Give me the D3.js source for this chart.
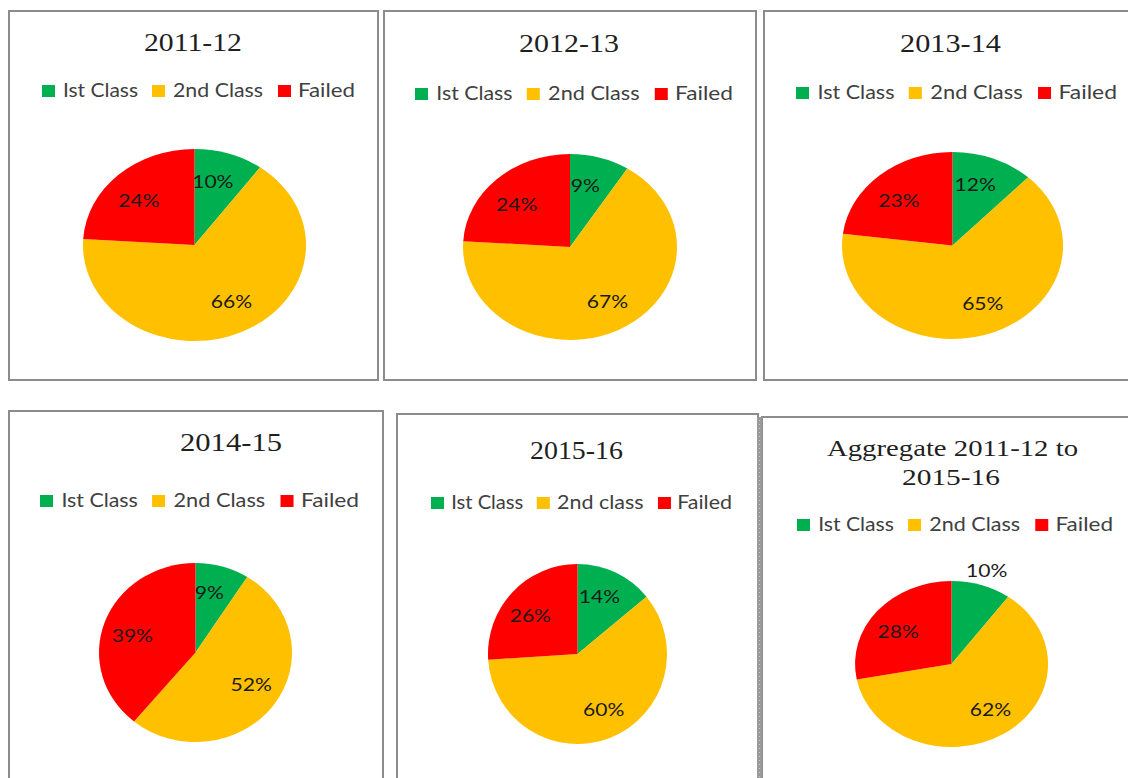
<!DOCTYPE html>
<html>
<head>
<meta charset="utf-8">
<script src="https://cdn.jsdelivr.net/npm/d3@7"></script>
<style>
  html, body { margin: 0; padding: 0; background: #ffffff; }
  svg { display: block; }
</style>
</head>
<body>
<svg id="chart" width="1128" height="778"></svg>
<script>
// ---------------- data ----------------
const categories = ["Ist Class", "2nd Class", "Failed"];
const panelTitles = [["2011-12"], ["2012-13"], ["2013-14"], ["2014-15"], ["2015-16"], ["Aggregate 2011-12 to", "2015-16"]];
const legendNames = [
  ["Ist Class", "2nd Class", "Failed"],
  ["Ist Class", "2nd Class", "Failed"],
  ["Ist Class", "2nd Class", "Failed"],
  ["Ist Class", "2nd Class", "Failed"],
  ["Ist Class", "2nd class", "Failed"],
  ["Ist Class", "2nd Class", "Failed"]
];
const firstClass  = [10, 9, 12, 9, 14, 10];
const secondClass = [66, 67, 65, 52, 60, 62];
const failed      = [24, 24, 23, 39, 26, 28];
const colors = ["#00B050", "#FFC000", "#FF0000"];

// ---------------- layout (positions / sizes / styles) ----------------
const layout = [
  {box: [9, 11, 378, 380], titles: [[193, 51, 98]], legend: [42, 313, 97], pie: [194.5, 245, 111.5, 96], outside: []},
  {box: [384, 11, 756, 380], titles: [[569, 52, 100]], legend: [415, 318, 100], pie: [570, 247, 107, 93], outside: []},
  {box: [764, 11, 1140, 380], titles: [[950.5, 52, 101]], legend: [796, 321, 99], pie: [952.5, 245.5, 110.5, 93.5], outside: []},
  {box: [9, 411, 383, 800], titles: [[231, 451, 102]], legend: [40, 319, 507], pie: [195.5, 652.5, 96.5, 89.5], outside: []},
  {box: [397, 414, 758, 800], titles: [[576.5, 459, 93]], legend: [431, 301, 509], pie: [577.5, 654, 89.5, 90], outside: []},
  {box: [762, 417, 1140, 800], titles: [[952.5, 456, 251], [951, 485, 98]], legend: [797, 316, 531], pie: [951.5, 664, 96.5, 83], outside: [0]}
];
// legend template relative to a 313px span
const legSquares = [0, 110, 236];
const legTexts = [[21, 75], [131, 90], [256, 57]];
const legSpanRef = 313;

const svg = d3.select("#chart");
const pie = d3.pie().sort(null).startAngle(0).endAngle(2 * Math.PI);
const arc = d3.arc().innerRadius(0).outerRadius(1);
const insideR = 0.68, outsideR = 1.18, angleShift = -4 * Math.PI / 180;

// panel borders
layout.forEach((L, i) => {
  const [x0, y0, x1, y1] = L.box;
  svg.append("rect")
    .attr("x", x0).attr("y", y0).attr("width", x1 - x0).attr("height", y1 - y0)
    .attr("fill", "#ffffff").attr("stroke", "#8c8c8c").attr("stroke-width", 2);
});
// double/dotted border strip at left of last panel
svg.append("rect").attr("x", 757).attr("y", 417).attr("width", 5).attr("height", 380)
  .attr("fill", "#9a9a9a");
svg.append("line").attr("x1", 759.5).attr("x2", 759.5).attr("y1", 420).attr("y2", 800)
  .attr("stroke", "#d0d0d0").attr("stroke-width", 1).attr("stroke-dasharray", "1,3");

layout.forEach((L, i) => {
  const g = svg.append("g");
  const values = [firstClass[i], secondClass[i], failed[i]];

  // title
  panelTitles[i].forEach((t, k) => {
    const [cx, y, w] = L.titles[k];
    const fs = panelTitles[i].length > 1 ? 24 : 26;
    g.append("text")
      .attr("x", cx - w / 2).attr("y", y)
      .attr("textLength", w).attr("lengthAdjust", "spacingAndGlyphs")
      .attr("font-family", "'Liberation Serif', 'Times New Roman', serif")
      .attr("font-size", fs).attr("fill", "#1f1f1f")
      .text(t);
  });

  // legend
  const [lx, span, ly] = L.legend;
  const s = span / legSpanRef;
  categories.forEach((c, k) => {
    g.append("rect")
      .attr("x", lx + legSquares[k] * s).attr("y", ly - 12)
      .attr("width", 13).attr("height", 12)
      .attr("fill", colors[k]);
    g.append("text")
      .attr("x", lx + legTexts[k][0] * s).attr("y", ly)
      .attr("textLength", legTexts[k][1] * s).attr("lengthAdjust", "spacingAndGlyphs")
      .attr("font-family", "Lato, 'Open Sans', sans-serif")
      .attr("font-size", 19).attr("fill", "#404040")
      .text(legendNames[i][k]);
  });

  // pie
  const [cx, cy, rx, ry] = L.pie;
  const arcs = pie(values);
  g.append("g")
    .attr("transform", `translate(${cx},${cy}) scale(${rx},${ry})`)
    .selectAll("path").data(arcs).join("path")
    .attr("d", arc)
    .attr("fill", (d, k) => colors[k]);

  // labels
  arcs.forEach((d, k) => {
    const r = L.outside.includes(k) ? outsideR : insideR;
    const shift = L.outside.includes(k) ? 0 : angleShift;
    const mid = (d.startAngle + d.endAngle) / 2 + shift;
    const [ux, uy] = d3.arc().innerRadius(r).outerRadius(r).centroid({startAngle: mid, endAngle: mid});
    const t = g.append("text")
      .attr("x", cx + ux * rx).attr("y", cy + uy * ry)
      .attr("dy", "0.36em")
      .attr("text-anchor", "middle")
      .attr("font-family", "Lato, 'Open Sans', sans-serif")
      .attr("font-size", 18).attr("fill", "#1a1a1a")
      .text(values[k] + "%");
    const w = t.node().getComputedTextLength();
    t.attr("textLength", w * 1.17).attr("lengthAdjust", "spacingAndGlyphs");
  });
});
</script>
</body>
</html>
